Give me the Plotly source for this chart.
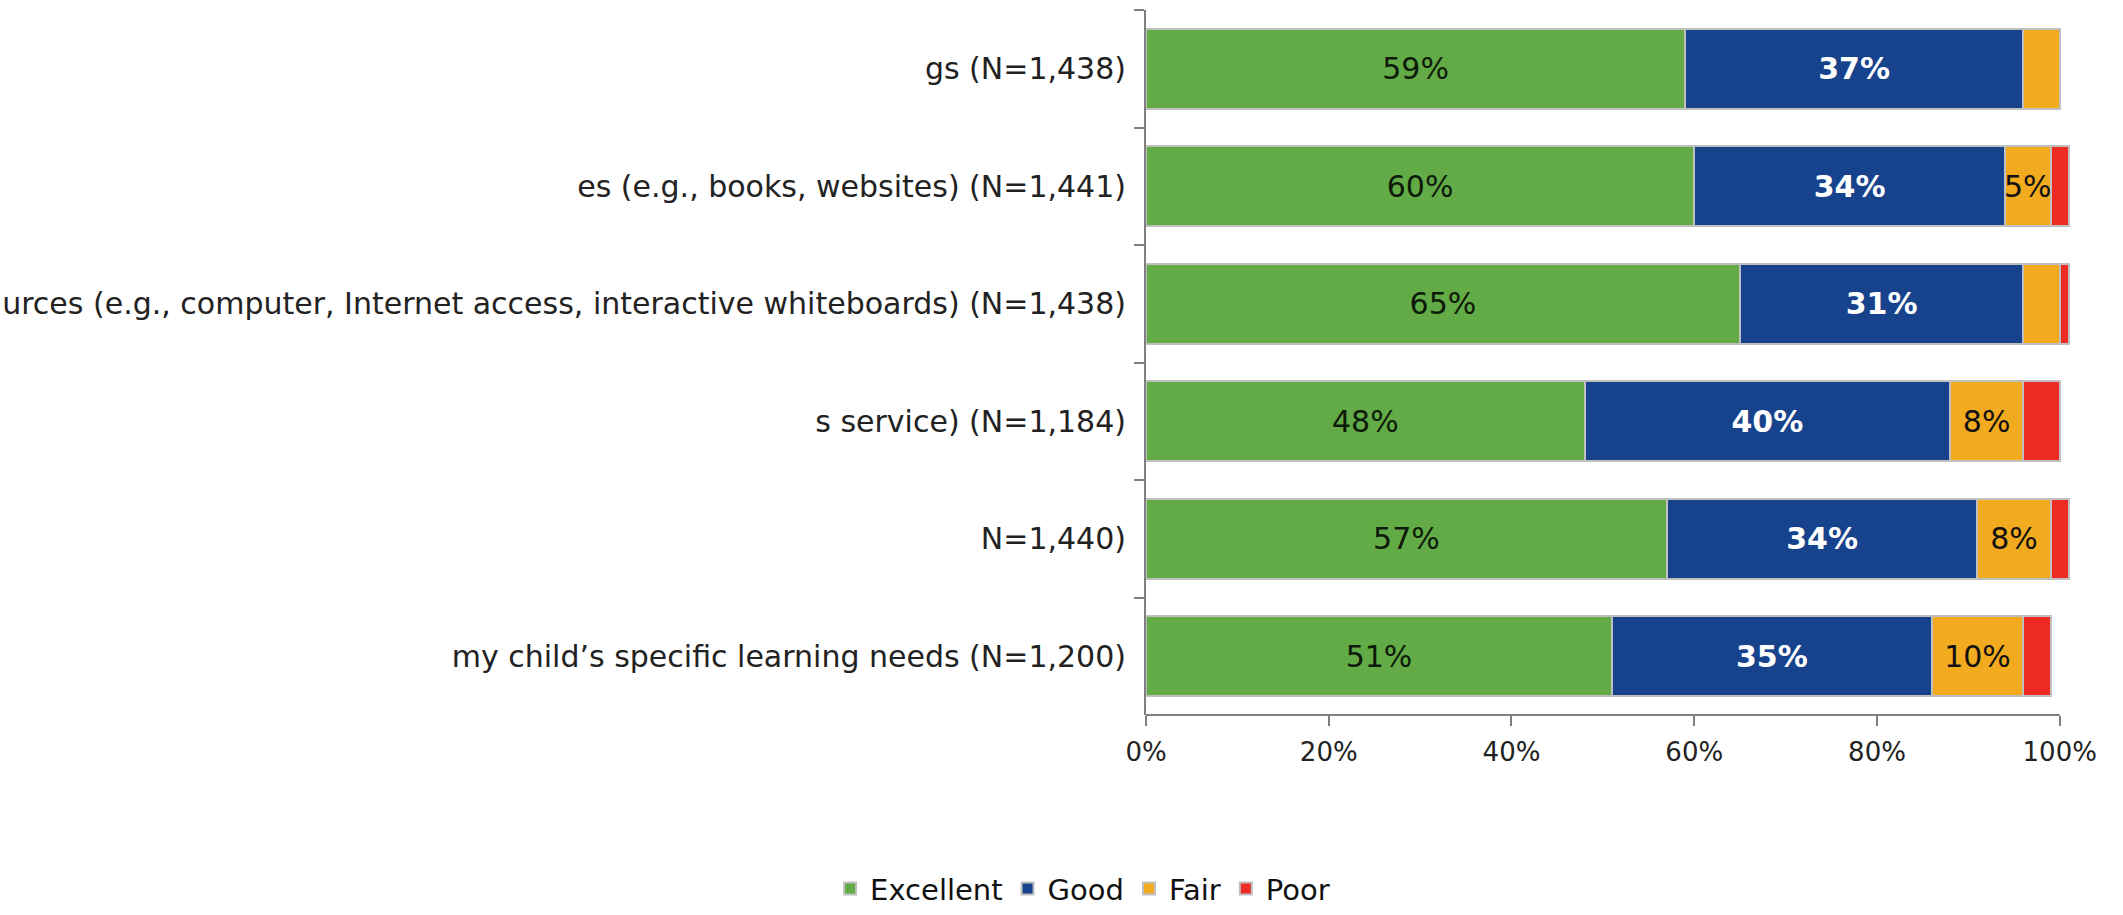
import plotly.graph_objects as go

categories = [
    "gs (N=1,438)",
    "es (e.g., books, websites) (N=1,441)",
    "urces (e.g., computer, Internet access, interactive whiteboards) (N=1,438)",
    "s service) (N=1,184)",
    "N=1,440)",
    "my child\u2019s specific learning needs (N=1,200)",
]
excellent = [59, 60, 65, 48, 57, 51]
good = [37, 34, 31, 40, 34, 35]
fair = [4, 5, 4, 8, 8, 10]
poor = [0, 2, 1, 4, 2, 3]
tick_vals = [0, 20, 40, 60, 80, 100]
tick_text = ["0%", "20%", "40%", "60%", "80%", "100%"]

FONT = "DejaVu Sans"
series = [
    ("Excellent", excellent, "#62AB46", "#0E1A0A"),
    ("Good", good, "#17428C", "#FFFFFF"),
    ("Fair", fair, "#F2AA1E", "#111111"),
    ("Poor", poor, "#EE2A24", "#111111"),
]

fig = go.Figure()
for name, vals, color, tcolor in series:
    labels = [f"{v}%" if v >= 5 else "" for v in vals]
    if name == "Good":
        labels = [f"<b>{t}</b>" if t else "" for t in labels]
    fig.add_trace(go.Bar(
        name=name, y=categories, x=vals, orientation="h",
        marker=dict(color=color, line=dict(color="#C0C0C0", width=2)),
        text=labels, textposition="inside", insidetextanchor="middle",
        textangle=0, constraintext="none",
        textfont=dict(family=FONT, size=30, color=tcolor),
        hoverinfo="skip",
    ))

fig.update_layout(
    barmode="stack",
    bargap=0.32,
    width=2123, height=915,
    margin=dict(l=1146, r=45, t=10, b=200, autoexpand=False),
    paper_bgcolor="white", plot_bgcolor="white",
    font=dict(family=FONT, size=30, color="#222222"),
    uniformtext=dict(minsize=29, mode="show"),
    showlegend=True,
    legend=dict(orientation="h", x=-0.068, xanchor="center", y=-0.2825, yanchor="bottom",
                font=dict(family=FONT, size=29, color="#111111"),
                itemwidth=30, tracegroupgap=0, traceorder="normal"),
    shapes=[dict(type="line", xref="x", yref="paper", x0=0, x1=100, y0=0, y1=0,
                 line=dict(color="#7F7F7F", width=2))],
)
fig.update_xaxes(range=[0, 102], tickvals=tick_vals, ticktext=tick_text,
                 automargin=False,
                 showgrid=False, zeroline=False, showline=False,
                 ticks="outside", ticklen=10, tickwidth=2, tickcolor="#7F7F7F",
                 ticklabelstandoff=4,
                 tickfont=dict(family=FONT, size=26, color="#222222"))
fig.update_yaxes(autorange="reversed", showgrid=False, zeroline=False,
                 automargin=False,
                 showline=True, linecolor="#7F7F7F", linewidth=2,
                 ticks="outside", tickson="boundaries", ticklen=10, tickwidth=2,
                 tickcolor="#7F7F7F", ticklabelstandoff=12,
                 tickfont=dict(family=FONT, size=30, color="#222222"))

fig.write_html("out.html", config={"displayModeBar": False},
               post_script="document.body.style.margin='0';")
